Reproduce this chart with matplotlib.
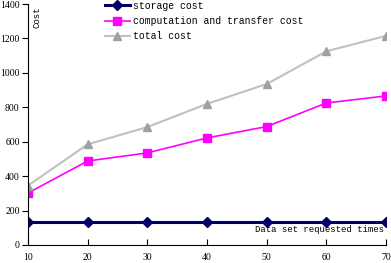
import matplotlib
matplotlib.use("Agg")
import matplotlib.pyplot as plt

times = [10, 20, 30, 40, 50, 60, 70]
storage_cost = [135, 135, 135, 135, 135, 135, 135]
comp_cost = [302, 488, 535, 622, 688, 825, 866]
total_cost = [345, 585, 685, 820, 935, 1125, 1215]

fig = plt.figure(figsize=(3.91, 2.63), dpi=100)
ax = fig.add_axes([28 / 391, 18 / 263, 358 / 391, 241 / 263])

ax.plot(times, storage_cost, color='#000066', lw=2.2, marker='D', ms=5,
        label='storage cost')
ax.plot(times, comp_cost, color='#FF00FF', lw=1.2, marker='s', ms=6,
        label='computation and transfer cost')
ax.plot(times, total_cost, color='#C0C0C0', lw=1.5, marker='^', ms=6,
        mfc='#A0A0A0', mec='#A0A0A0', label='total cost')

ax.set_xlim(10, 70)
ax.set_ylim(0, 1400)
ax.set_xticks(times)
ax.set_yticks(range(0, 1401, 200))
ax.spines['top'].set_visible(False)
ax.spines['right'].set_visible(False)
ax.tick_params(axis='x', direction='in', length=4, pad=6)
ax.tick_params(axis='y', direction='out', length=4, pad=2)
for lab in ax.get_xticklabels() + ax.get_yticklabels():
    lab.set_family('Liberation Serif')
    lab.set_fontsize(7)

ax.text(0.025, 0.99, 'Cost', rotation=90, transform=ax.transAxes,
        ha='center', va='top', family='Liberation Mono', fontsize=6.5)
ax.text(0.995, 0.045, 'Data set requested times', transform=ax.transAxes,
        ha='right', va='bottom', family='Liberation Mono', fontsize=6.5)

ax.legend(loc='upper left', bbox_to_anchor=(0.205, 1.03), frameon=False,
          prop={'family': 'Liberation Mono', 'size': 7}, handlelength=2.5,
          labelspacing=0.55, borderaxespad=0, handletextpad=0.3)

fig.savefig("out.png", dpi=100)
